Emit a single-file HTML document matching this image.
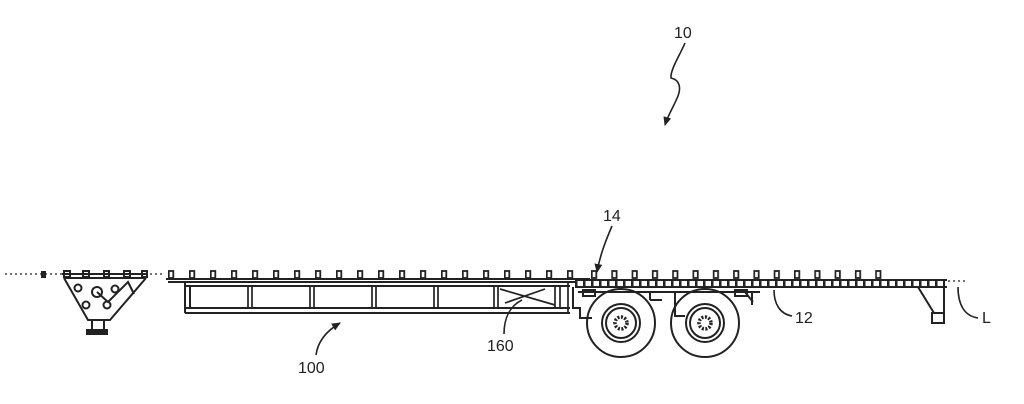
<!DOCTYPE html>
<html><head><meta charset="utf-8"><style>
html,body{margin:0;padding:0;background:#fff;width:1024px;height:404px;overflow:hidden}
svg{display:block}
text{font-family:"Liberation Sans",sans-serif;font-size:16px;fill:#222}
</style></head><body>
<svg width="1024" height="404" viewBox="0 0 1024 404" xmlns="http://www.w3.org/2000/svg">
<defs>
<pattern id="bumpL" x="168" y="270" width="21" height="10" patternUnits="userSpaceOnUse">
<rect x="0.8" y="1" width="4.5" height="7" fill="none" stroke="#222" stroke-width="1.8"/>
</pattern>
<pattern id="bumpR" x="591" y="270" width="20.3" height="10" patternUnits="userSpaceOnUse">
<rect x="0.8" y="1" width="4.5" height="7" fill="none" stroke="#222" stroke-width="1.8"/>
</pattern>
<pattern id="dash" x="575" y="281" width="8" height="6" patternUnits="userSpaceOnUse">
<rect x="0" y="0" width="2.5" height="6" fill="#222"/>
</pattern>
<marker id="ar" markerWidth="10" markerHeight="10" refX="8" refY="5" orient="auto" markerUnits="userSpaceOnUse">
<path d="M0,1 L9,5 L0,9 Z" fill="#222"/>
</marker>
</defs>
<g fill="none" stroke="#222" stroke-width="2">
<line x1="5" y1="274" x2="165" y2="274" stroke-dasharray="2,3" stroke-width="1.2"/>
<rect x="42" y="272" width="3" height="5" fill="#222"/>
<path d="M62,274 L148,274 M64,278 L146,278 M64,278 L88,320 L110,320 L146,278"/>
<rect x="92" y="320" width="12" height="10"/>
<rect x="87" y="330" width="20" height="4" fill="#222"/>
<circle cx="78" cy="288" r="3.5"/><circle cx="86" cy="305" r="3.5"/><circle cx="115" cy="289" r="3.5"/><circle cx="107" cy="305" r="3.5"/>
<circle cx="97" cy="292" r="5"/>
<path d="M97,292 L108,302 L128,282 L134,294"/>
<rect x="64" y="271" width="6" height="6"/><rect x="83" y="271" width="6" height="6"/><rect x="104" y="271" width="5" height="6"/><rect x="124" y="271" width="6" height="6"/><rect x="142" y="271" width="5" height="6"/>
<rect x="166" y="270" width="410" height="8" fill="url(#bumpL)" stroke="none"/>
<line x1="166" y1="279" x2="590" y2="279"/>
<line x1="168" y1="282" x2="575" y2="282"/>
<line x1="185" y1="286" x2="570" y2="286"/>
<line x1="185" y1="282" x2="185" y2="313"/>
<line x1="190" y1="286" x2="190" y2="308"/>
<line x1="185" y1="308" x2="570" y2="308"/>
<line x1="185" y1="313" x2="570" y2="313"/>
<g stroke-width="1.7">
<path d="M248,286V308M252,286V308M310,286V308M314,286V308M372,286V308M376,286V308M434,286V308M438,286V308M494,286V308M498,286V308"/>
<path d="M500,289 L555,305 M505,303 L545,289 M555,286V308 M560,286V308 M568,282V313"/>
</g>
<rect x="575" y="281" width="370" height="6" fill="url(#dash)" stroke="none"/>
<line x1="575" y1="280" x2="947" y2="280"/>
<line x1="575" y1="287" x2="947" y2="287"/>
<rect x="590" y="270" width="300" height="10" fill="url(#bumpR)" stroke="none"/>
<line x1="578" y1="292" x2="760" y2="292"/>
<path d="M573,287V308H580V318H592 M583,290h12v6h-12z M650,292v8 M662,300h-12 M675,292v24h10 M735,290h12v6h-12z M745,292l8,10 M752,292V305"/>
<circle cx="621" cy="323" r="34"/><circle cx="621" cy="323" r="19"/><circle cx="621" cy="323" r="15"/><circle cx="621" cy="323" r="6" stroke-dasharray="2,1.5" stroke-width="3.5"/>
<circle cx="705" cy="323" r="34"/><circle cx="705" cy="323" r="19"/><circle cx="705" cy="323" r="15"/><circle cx="705" cy="323" r="6" stroke-dasharray="2,1.5" stroke-width="3.5"/>
<path d="M918,287 L934,313 M944,287 L944,313 M932,313h12v10h-12z"/>
<line x1="948" y1="281" x2="966" y2="281" stroke-dasharray="2,3" stroke-width="1.2"/>
<path d="M685,43 C680,55 670,70 671,78 C680,80 681,88 678,96 C674,106 668,115 665,125" marker-end="url(#ar)" stroke-width="1.6"/>
<path d="M612,226 C606,240 600,255 597,272" marker-end="url(#ar)" stroke-width="1.6"/>
<path d="M316,355 C318,340 328,330 340,323" marker-end="url(#ar)" stroke-width="1.6"/>
<path d="M504,334 C504,318 510,306 522,300" stroke-width="1.6"/>
<path d="M774,290 C774,304 780,314 792,316" stroke-width="1.6"/>
<path d="M958,287 C958,304 964,316 978,318" stroke-width="1.6"/>
</g>
<text x="674" y="38">10</text>
<text x="603" y="221">14</text>
<text x="795" y="323">12</text>
<text x="487" y="351">160</text>
<text x="298" y="373">100</text>
<text x="982" y="323">L</text>
</svg>
</body></html>
